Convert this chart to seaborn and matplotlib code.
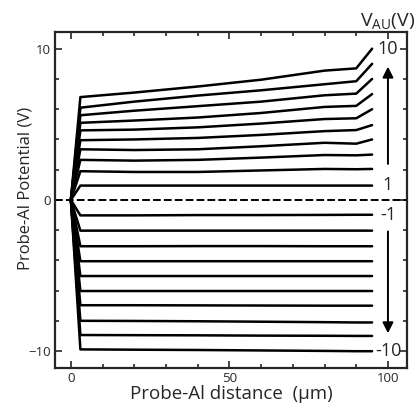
import numpy as np
import pandas as pd
import matplotlib
matplotlib.use("Agg")
import matplotlib.pyplot as plt
import seaborn as sns
from matplotlib.ticker import MultipleLocator

# probe positions (um)
x_um = [0, 3, 20, 40, 60, 80, 90, 95]

# V_AU = 10 ... 1 (positive side), potential at each x
up_curves = [
    [0, 6.80, 7.10, 7.50, 7.95, 8.55, 8.70, 10.00],
    [0, 6.10, 6.50, 6.90, 7.25, 7.65, 7.85, 9.00],
    [0, 5.60, 5.90, 6.20, 6.50, 6.92, 7.03, 8.00],
    [0, 5.10, 5.25, 5.45, 5.75, 6.15, 6.22, 7.00],
    [0, 4.60, 4.65, 4.80, 5.05, 5.35, 5.40, 6.00],
    [0, 3.95, 4.00, 4.10, 4.30, 4.55, 4.62, 4.95],
    [0, 3.35, 3.30, 3.35, 3.55, 3.78, 3.72, 4.00],
    [0, 2.65, 2.60, 2.65, 2.80, 2.97, 2.95, 3.00],
    [0, 1.90, 1.85, 1.85, 1.95, 2.05, 2.03, 2.05],
    [0, 0.95, 0.95, 0.95, 0.95, 0.95, 0.95, 0.95],
]
up_vau = [10, 9, 8, 7, 6, 5, 4, 3, 2, 1]

# V_AU = -1 ... -10 (negative side)
down_curves = [
    [0, -1.02, -1.02, -1.00, -1.00, -0.99, -0.98, -0.98],
    [0, -2.03, -2.03, -2.03, -2.03, -2.03, -2.03, -2.03],
    [0, -3.06, -3.06, -3.05, -3.05, -3.06, -3.06, -3.06],
    [0, -4.05, -4.05, -4.05, -4.05, -4.05, -4.05, -4.05],
    [0, -5.03, -5.03, -5.03, -5.03, -5.03, -5.03, -5.03],
    [0, -6.02, -6.02, -6.02, -6.02, -6.02, -6.02, -6.02],
    [0, -6.96, -6.96, -6.97, -6.98, -6.99, -6.99, -6.99],
    [0, -7.99, -8.00, -8.02, -8.05, -8.08, -8.10, -8.10],
    [0, -8.93, -8.94, -8.95, -8.97, -8.98, -8.99, -8.99],
    [0, -9.88, -9.90, -9.92, -9.95, -9.98, -10.00, -10.00],
]
down_vau = [-1, -2, -3, -4, -5, -6, -7, -8, -9, -10]

# long table for seaborn
rows = []
for vau, ys in zip(up_vau + down_vau, up_curves + down_curves):
    for x, y in zip(x_um, ys):
        rows.append({"x": x, "V": y, "vau": vau})
df = pd.DataFrame(rows)

sns.set_style("ticks")
plt.rcParams['font.family'] = ['Open Sans', 'DejaVu Sans']

fig = plt.figure(figsize=(4.2, 4.11), dpi=100)
ax = fig.add_axes([0.131, 0.105, 0.838, 0.817])

sns.lineplot(data=df, x="x", y="V", hue="vau", palette=["black"] * 20,
             legend=False, sort=False, estimator=None, linewidth=1.8, ax=ax)
ax.axhline(0, color="black", linestyle=(0, (4, 1.6)), linewidth=1.4)

ax.set_xlim(-5, 106)
ax.set_ylim(-11.1, 11.1)
ax.xaxis.set_major_locator(MultipleLocator(50))
ax.xaxis.set_minor_locator(MultipleLocator(10))
ax.yaxis.set_major_locator(MultipleLocator(10))
ax.yaxis.set_minor_locator(MultipleLocator(2))
ax.tick_params(which="both", direction="in", top=True, right=True, width=1.2, labelsize=9.5)
ax.tick_params(which="major", length=5, pad=3)
ax.tick_params(which="minor", length=3)
for s in ax.spines.values():
    s.set_linewidth(1.6)

ax.set_xlabel("Probe-Al distance  (\u00b5m)", fontsize=13.5, labelpad=0)
ax.set_ylabel("Probe-Al Potential (V)", fontsize=12)
ax.yaxis.set_label_coords(-0.062, 0.533)

# right-hand annotations
for lab, yv in [("10", 10), ("1", 1), ("-1", -1), ("-10", -10)]:
    ax.text(100, yv, lab, ha="center", va="center", fontsize=13)
ax.text(100, 11.15, r"$\mathregular{V_{AU}}$(V)", ha="center", va="bottom",
        fontsize=14, clip_on=False)
ax.annotate("", xy=(100, 9.0), xytext=(100, 2.2),
            arrowprops=dict(arrowstyle="-|>", color="black", lw=1.4, mutation_scale=16))
ax.annotate("", xy=(100, -9.0), xytext=(100, -1.9),
            arrowprops=dict(arrowstyle="-|>", color="black", lw=1.4, mutation_scale=16))

fig.savefig("out.png", dpi=100)
